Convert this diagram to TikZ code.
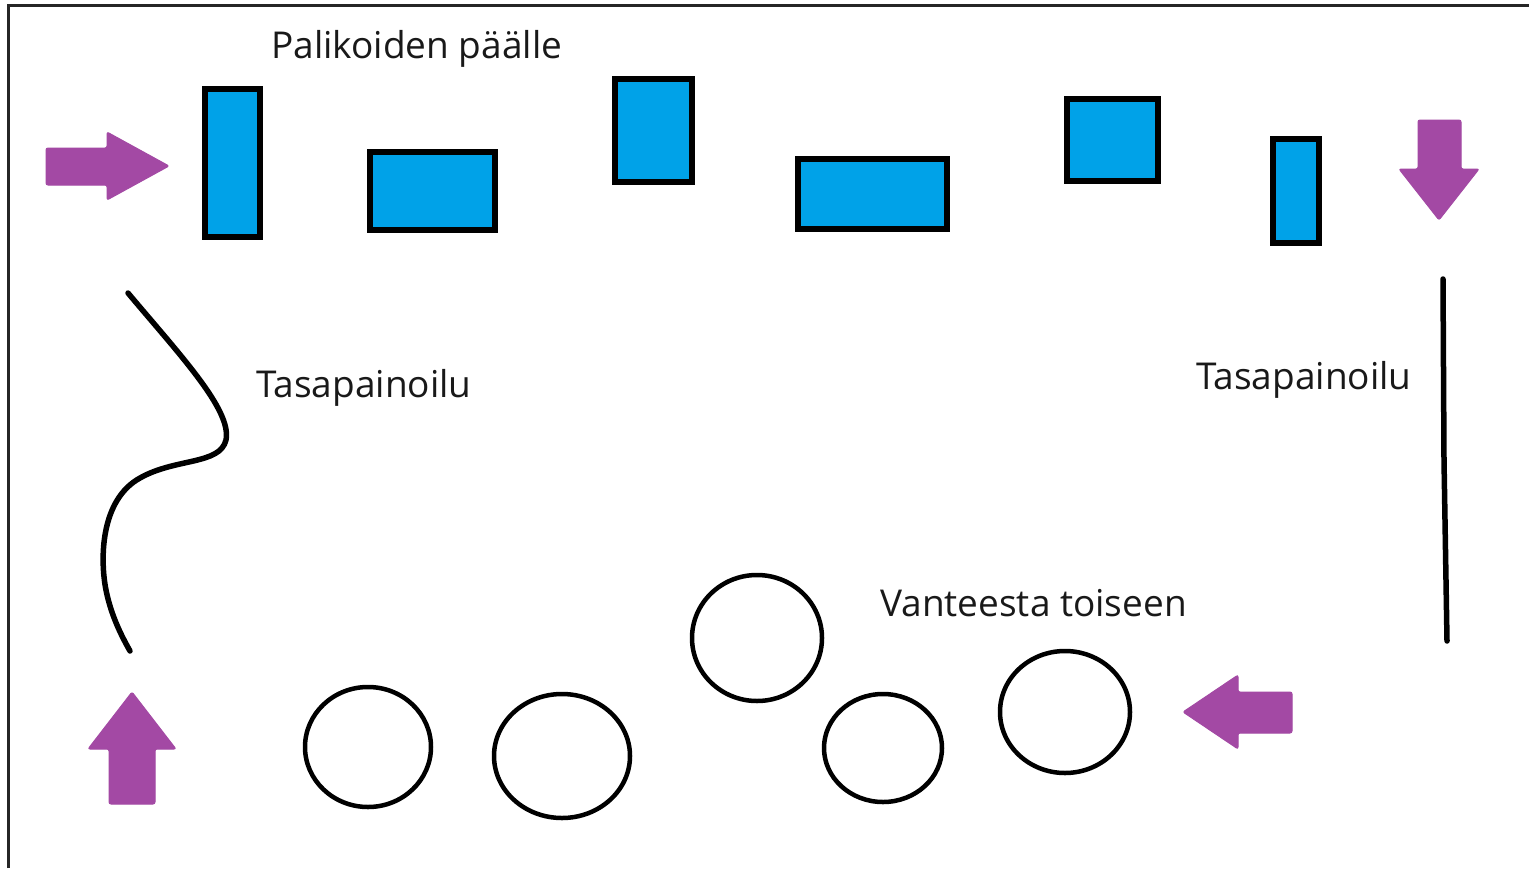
\documentclass[tikz,border=0pt]{standalone}
\usepackage{fontspec}
\setmainfont{Open Sans}
\definecolor{pblue}{HTML}{00A2E8}
\definecolor{ppurple}{HTML}{A349A4}
\begin{document}
\begin{tikzpicture}[x=1pt,y=-1pt,
  block/.style={draw=black,fill=pblue,line width=6pt},
  hoop/.style={draw=black,line width=4.5pt},
  arr/.style={fill=ppurple,draw=ppurple,line width=1pt,rounded corners=2pt},
  beam/.style={draw=black,line width=5.5pt,line cap=round},
  lbl/.style={anchor=base west,inner sep=0pt,font=\fontsize{37}{42}\selectfont,text=black!90}]
\useasboundingbox (0,0) rectangle (1529,868);
\fill[white] (0,0) rectangle (1529,868);
% frame
\draw[black!85,line width=3pt] (8.5,868) -- (8.5,5) -- (1529,5);
% blocks
\draw[block] (205,89) rectangle (260,237);
\draw[block] (370,152) rectangle (495,230);
\draw[block] (615,79) rectangle (692,182);
\draw[block] (798,159) rectangle (947,229);
\draw[block] (1067,99) rectangle (1158,181);
\draw[block] (1273,139) rectangle (1319,243);
% arrows
\filldraw[arr] (46,148) -- (107,148) -- (107,132) -- (169,166) -- (107,200) -- (107,185) -- (46,185) -- cycle;
\filldraw[arr] (1418,120) -- (1461,120) -- (1461,169) -- (1479,169) -- (1439,220) -- (1399,169) -- (1418,169) -- cycle;
\filldraw[arr] (109,804) -- (155,804) -- (155,749) -- (176,749) -- (132,692) -- (88,749) -- (109,749) -- cycle;
\filldraw[arr] (1292,692) -- (1238,692) -- (1238,675) -- (1183,712) -- (1238,749) -- (1238,733) -- (1292,733) -- cycle;
% balance beams
\draw[beam] (128,293) .. controls (180,355) and (232,410) .. (226,440)
  .. controls (220,465) and (175,458) .. (140,478)
  .. controls (100,500) and (100,560) .. (106,590)
  .. controls (111,615) and (121,635) .. (130,651);
\draw[beam] (1443,279) -- (1444,460) -- (1447,641);
% hoops
\draw[hoop] (368,747) ellipse [x radius=63, y radius=60];
\draw[hoop] (562,756) ellipse [x radius=68, y radius=62];
\draw[hoop] (757,638) ellipse [x radius=65, y radius=63];
\draw[hoop] (883,748) ellipse [x radius=59, y radius=54];
\draw[hoop] (1065,712) ellipse [x radius=65, y radius=61];
% labels
\node[lbl] (t1) at (271,58) {Palikoiden päälle};
\node[lbl] (t2) at (256,397) {Tasapainoilu};
\node[lbl] (t3) at (1196,389) {Tasapainoilu};
\node[lbl] (t4) at (880,616) {Vanteesta toiseen};
\end{tikzpicture}
\end{document}
